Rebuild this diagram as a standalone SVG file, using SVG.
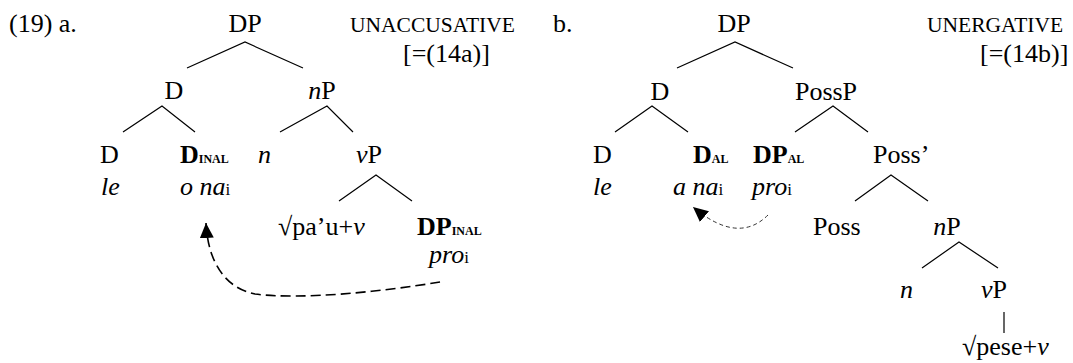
<svg xmlns="http://www.w3.org/2000/svg" width="1073" height="363" viewBox="0 0 1073 363">
<style>
text{font-family:"Liberation Serif","Times New Roman",Tinos,serif;font-size:26px;fill:#000}
.it{font-style:italic}
.b{font-weight:bold}
.sc{font-size:21.5px}
.sub{font-size:12px;font-weight:bold}
.si{font-size:17px;font-style:normal}
.tr{stroke:#000;stroke-width:1.2;fill:none}
.mv{stroke:#000;stroke-width:1.6;fill:none;stroke-dasharray:10 5}
.mv2{stroke:#333;stroke-width:1;fill:none;stroke-dasharray:4 3}
</style>
<defs>
<marker id="ah" markerUnits="userSpaceOnUse" markerWidth="16" markerHeight="14" refX="15" refY="7" orient="auto" viewBox="0 0 16 14">
<path d="M0,0 L15,7 L0,14 z" fill="#000"/>
</marker>
</defs>
<g id="labels">
<text x="9" y="32">(19) a.</text>
<text x="350" y="32" class="sc">UNACCUSATIVE</text>
<text x="403" y="62">[=(14a)]</text>
<text x="553" y="32">b.</text>
<text x="927" y="32" class="sc">UNERGATIVE</text>
<text x="980" y="62">[=(14b)]</text>
</g>
<!-- tree a -->
<g id="a-DP"><text x="245" y="32" text-anchor="middle">DP</text></g>
<g id="a-D"><text x="174" y="99" text-anchor="middle">D</text></g>
<g id="a-nP"><text x="322" y="99" text-anchor="middle"><tspan class="it">n</tspan>P</text></g>
<g id="a-D-le"><text x="100" y="163">D</text><text x="101" y="195" class="it">le</text></g>
<g id="a-DINAL"><text x="180" y="163"><tspan class="b">D</tspan><tspan class="sub">INAL</tspan></text><text x="180" y="195" class="it">o na<tspan class="si">i</tspan></text></g>
<g id="a-n"><text x="258" y="163" class="it">n</text></g>
<g id="a-vP"><text x="369" y="163" text-anchor="middle"><tspan class="it">v</tspan>P</text></g>
<g id="a-root"><text x="278" y="235">√pa’u+<tspan class="it">v</tspan></text></g>
<g id="a-DPINAL"><text x="417" y="235"><tspan class="b">DP</tspan><tspan class="sub">INAL</tspan></text><text x="429" y="263" class="it">pro<tspan class="si">i</tspan></text></g>
<!-- tree b -->
<g id="b-DP"><text x="734" y="32" text-anchor="middle">DP</text></g>
<g id="b-D"><text x="660" y="100" text-anchor="middle">D</text></g>
<g id="b-PossP"><text x="826" y="100" text-anchor="middle">PossP</text></g>
<g id="b-D-le"><text x="593" y="163">D</text><text x="593" y="195" class="it">le</text></g>
<g id="b-DAL"><text x="693" y="163"><tspan class="b">D</tspan><tspan class="sub">AL</tspan></text><text x="673" y="195" class="it">a na<tspan class="si">i</tspan></text></g>
<g id="b-DPAL"><text x="753" y="163"><tspan class="b">DP</tspan><tspan class="sub">AL</tspan></text><text x="752" y="195" class="it">pro<tspan class="si">i</tspan></text></g>
<g id="b-Possbar"><text x="873" y="163">Poss’</text></g>
<g id="b-Poss"><text x="813" y="235">Poss</text></g>
<g id="b-nP"><text x="947" y="235" text-anchor="middle"><tspan class="it">n</tspan>P</text></g>
<g id="b-n"><text x="900" y="298" class="it">n</text></g>
<g id="b-vP"><text x="994" y="298" text-anchor="middle"><tspan class="it">v</tspan>P</text></g>
<g id="b-root"><text x="962" y="355">√pese+<tspan class="it">v</tspan></text></g>
<g id="connectors">
<path class="tr" d="M187,68 L245,42 L303,68"/>
<path class="tr" d="M123,132 L162,106 L195,132"/>
<path class="tr" d="M280,132 L327,106 L353,132"/>
<path class="tr" d="M339,201 L376,175 L412,201"/>
<path class="tr" d="M677,68 L735,42 L793,68"/>
<path class="tr" d="M615,132 L652,106 L688,132"/>
<path class="tr" d="M795,132 L833,106 L868,132"/>
<path class="tr" d="M855,201 L891,175 L928,201"/>
<path class="tr" d="M922,268 L959,242 L998,268"/>
<path class="tr" d="M1004,312 L1004,333"/>
<path class="mv" d="M440,282 C380,292 300,300 255,294 C225,288 208,262 206,223" marker-end="url(#ah)"/>
<path class="mv2" d="M768,215 Q738,245 693,207" marker-end="url(#ah)"/>
</g>
</svg>
